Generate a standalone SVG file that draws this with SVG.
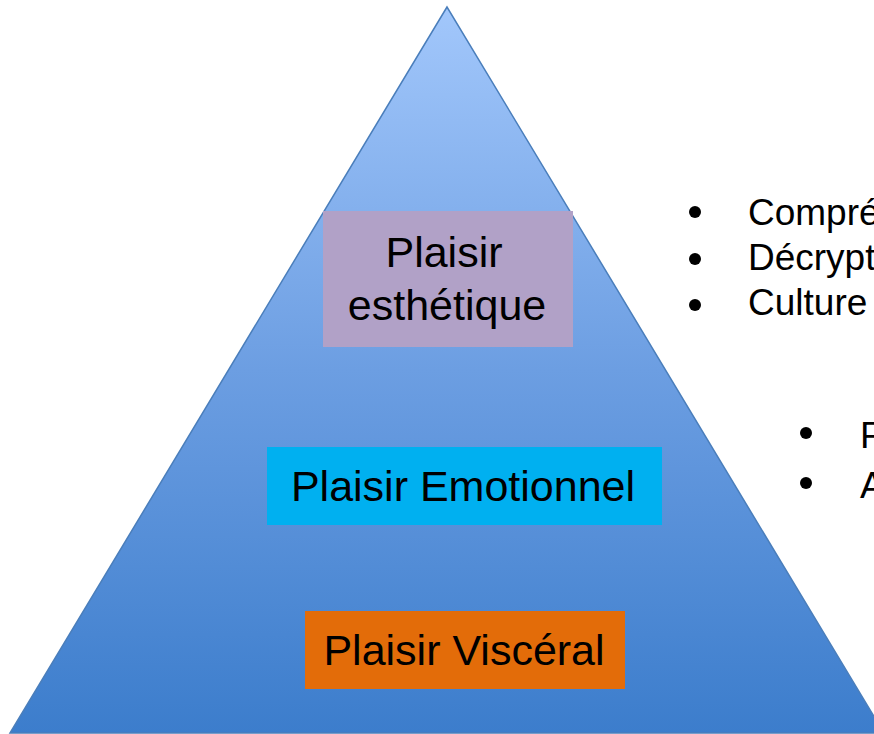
<svg xmlns="http://www.w3.org/2000/svg" width="874" height="734" viewBox="0 0 874 734">
  <defs>
    <linearGradient id="pyr" x1="0" y1="7" x2="0" y2="733" gradientUnits="userSpaceOnUse">
      <stop offset="0" stop-color="#A2C7FB"/>
      <stop offset="0.5" stop-color="#6C9EE2"/>
      <stop offset="1" stop-color="#3C7DCC"/>
    </linearGradient>
    <style>
      .lbl { font-family: "Liberation Sans", Arial, sans-serif; font-size: 43px; fill: #000; text-anchor: middle; }
      .bul { font-family: "Liberation Sans", Arial, sans-serif; font-size: 37px; fill: #000; }
    </style>
  </defs>
  <rect width="874" height="734" fill="#FFFFFF"/>
  <g id="pyramid">
    <polygon points="447,7 10,733 884,733" fill="url(#pyr)" stroke="#4A7EBB" stroke-width="1.5"/>
  </g>
  <g id="esthetique">
    <rect x="323" y="211" width="250" height="136" fill="#B1A1C7"/>
    <text class="lbl" x="444" y="267">Plaisir</text>
    <text class="lbl" x="447" y="320">esthétique</text>
  </g>
  <g id="emotionnel">
    <rect x="267" y="447" width="395" height="78" fill="#00B0F0"/>
    <text class="lbl" x="463" y="501">Plaisir Emotionnel</text>
  </g>
  <g id="visceral">
    <rect x="305" y="611" width="320" height="78" fill="#E36C09"/>
    <text class="lbl" x="464" y="665">Plaisir Viscéral</text>
  </g>
  <g id="bullets1">
    <circle cx="695" cy="212" r="6"/>
    <circle cx="695" cy="259" r="6"/>
    <circle cx="695" cy="305" r="6"/>
    <text class="bul" x="748" y="225">Compré</text>
    <text class="bul" x="748" y="270">Décrypt</text>
    <text class="bul" x="748" y="315">Culture</text>
  </g>
  <g id="bullets2">
    <circle cx="806" cy="433" r="6"/>
    <circle cx="806" cy="483" r="6"/>
    <text class="bul" x="860" y="448">R</text>
    <text class="bul" x="860" y="498">A</text>
  </g>
</svg>
